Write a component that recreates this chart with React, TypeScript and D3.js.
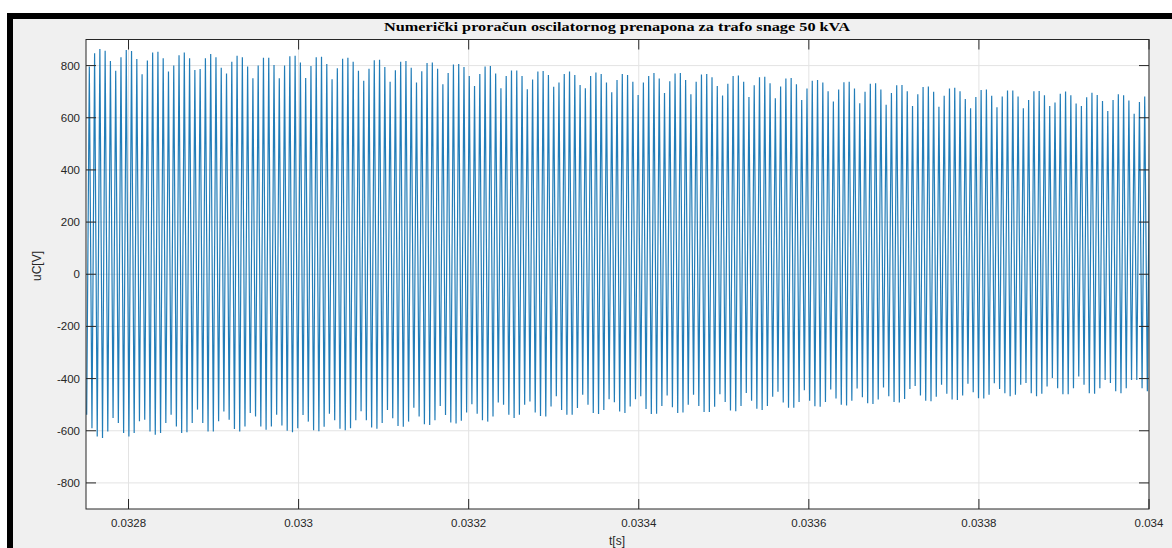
import React from 'react';
import * as d3 from 'd3';

const TITLE = 'Numerički proračun oscilatornog prenapona za trafo snage 50 kVA';
const X_LABEL = 't[s]';
const Y_LABEL = 'uC[V]';
const X_DOMAIN = [0.03275, 0.034];
const Y_DOMAIN = [-900, 900];
const X_TICKS = [0.0328, 0.033, 0.0332, 0.0334, 0.0336, 0.0338, 0.034];
const X_TICK_LABELS = ['0.0328', '0.033', '0.0332', '0.0334', '0.0336', '0.0338', '0.034'];
const Y_TICKS = [-800, -600, -400, -200, 0, 200, 400, 600, 800];
const Y_TICK_LABELS = ['-800', '-600', '-400', '-200', '0', '200', '400', '600', '800'];

// sampling of the oscillation: time of first trough and period of one cycle
const T_FIRST = 0.0327508;
const PERIOD = 6.2053e-6;

// positive peak of each cycle [V]
const PEAKS = [
  796, 847, 864, 857, 818, 780, 832, 860, 856, 825, 767, 819, 850, 853, 828, 777, 800, 840, 850, 828,
  783, 787, 828, 844, 832, 792, 770, 815, 838, 832, 796, 751, 800, 830, 830, 802, 751,
  800, 836, 838, 812, 752, 798, 832, 834, 806, 748, 790, 826, 830, 815, 780, 742, 788, 820, 822,
  795, 738, 782, 815, 818, 792, 735, 778, 810, 812, 788, 728, 772, 804, 806, 795, 760, 722, 768,
  796, 798, 770,
  713, 760, 781, 781, 760, 709, 747, 777, 779, 764, 719, 735, 768, 777, 764, 726, 713, 760, 773,
  768, 735, 698, 745, 768, 764, 738, 687, 735, 760,
  772, 750, 695, 740, 770, 772, 745, 690, 738, 766, 768, 755, 722, 685, 730, 760, 762, 738, 680,
  725, 755, 757, 732, 675, 720, 750, 752, 728, 668, 712, 742, 745, 735, 702, 662, 708, 736, 738,
  712, 656, 700, 730, 732, 708, 650, 695, 725, 726, 702, 645, 690, 718, 720, 700, 642, 684, 712,
  715, 702, 672, 636, 680, 706, 708, 684, 640,
  681, 704, 704, 681, 636, 668, 702, 703, 686, 645, 658, 692, 701, 686, 655, 645, 679, 696, 687,
  664, 626, 668, 690, 686, 666, 615, 660, 681, 684,
];

// negative trough of each cycle [V]
const TROUGHS = [
  -539, -590, -622, -628, -603, -551, -570, -609, -622, -609, -564, -558, -603, -615, -609, -570,
  -539, -584, -609, -606, -570, -519, -570, -603, -603, -564, -526, -558, -593, -603, -584, -532,
  -545, -584, -596, -584, -539,
  -580, -600, -606, -590, -540, -565, -598, -602, -585, -535, -560, -592, -598, -590, -560, -525,
  -560, -588, -592, -570, -520, -552, -582, -585, -565, -512, -545, -575, -578, -560, -505, -540,
  -568, -572, -562, -530, -498, -535, -560, -565, -545, -492,
  -500, -539, -551, -539, -500, -488, -530, -543, -545, -507, -468, -520, -539, -539, -513, -462,
  -500, -532, -536, -520, -479, -491, -526, -532, -507, -479, -468, -517,
  -536, -535, -505, -465, -510, -532, -530, -500, -462, -505, -528, -528, -508, -460, -490, -522,
  -525, -505, -455, -485, -516, -520, -505, -470, -450, -492, -512, -512, -490, -445, -485, -506,
  -508, -490, -442, -476, -500, -503, -485, -438, -472, -495, -497, -480, -434, -468, -490, -492,
  -478, -440, -428, -465, -485, -487, -470, -424, -458, -480, -482, -465, -420, -452, -475, -476,
  -462, -418, -440,
  -456, -468, -462, -424, -417, -456, -468, -458, -430, -398, -437, -460, -460, -437, -392, -424,
  -456, -458, -437, -405, -417, -449, -456, -437, -405, -405, -437, -449,
];

const SANS = '"Liberation Sans", Arial, Helvetica, sans-serif';
const SERIF = '"Liberation Serif", "Times New Roman", serif';

export default function App() {
  const W = 1172;
  const H = 548;
  const L = 86;
  const R = 1149;
  const T = 39.5;
  const B = 509;
  const x = d3.scaleLinear().domain(X_DOMAIN).range([L, R]);
  const y = d3.scaleLinear().domain(Y_DOMAIN).range([B, T]);

  const pts: [number, number][] = [];
  for (let i = 0; i < TROUGHS.length; i++) {
    pts.push([T_FIRST + i * PERIOD, TROUGHS[i]]);
    if (i < PEAKS.length) pts.push([T_FIRST + (i + 0.5) * PERIOD, PEAKS[i]]);
  }
  const line = d3
    .line<[number, number]>()
    .x((d) => x(d[0]))
    .y((d) => y(d[1]));
  const pathD = line(pts) || '';

  const tickLen = 10;
  const axisColor = '#262626';
  const gridColor = '#e3e3e3';

  return (
    <svg
      width={W}
      height={H}
      style={{ position: 'absolute', left: 0, top: 0, display: 'block' }}
    >
      <rect x={0} y={0} width={W} height={H} fill="#ffffff" />
      <rect x={13} y={19} width={W - 13} height={H - 19} fill="#f0f0f0" />
      <rect x={7} y={13} width={W - 7} height={6} fill="#000000" />
      <rect x={7} y={13} width={6} height={H - 13} fill="#000000" />

      <text
        x={617}
        y={31}
        textAnchor="middle"
        fontFamily={SERIF}
        fontWeight="bold"
        fontSize={13}
        fill="#000"
        textLength={466}
        lengthAdjust="spacingAndGlyphs"
      >
        {TITLE}
      </text>

      <rect x={L} y={T} width={R - L} height={B - T} fill="#ffffff" />

      <g>
        {X_TICKS.map((t) => (
          <line key={'gx' + t} x1={x(t)} x2={x(t)} y1={T} y2={B} stroke={gridColor} strokeWidth={1} />
        ))}
        {Y_TICKS.map((v) => (
          <line key={'gy' + v} x1={L} x2={R} y1={y(v)} y2={y(v)} stroke={gridColor} strokeWidth={1} />
        ))}
      </g>

      <defs>
        <clipPath id="plotclip">
          <rect x={L} y={T} width={R - L} height={B - T} />
        </clipPath>
      </defs>
      <path
        d={pathD}
        fill="none"
        stroke="#0a6fb0"
        strokeWidth={1.2}
        strokeOpacity={0.9}
        clipPath="url(#plotclip)"
      />

      <rect x={L} y={T} width={R - L} height={B - T} fill="none" stroke={axisColor} strokeWidth={1} />

      <g>
        {X_TICKS.map((t) => (
          <g key={'xt' + t}>
            <line x1={x(t)} x2={x(t)} y1={B} y2={B - tickLen} stroke={axisColor} strokeWidth={1} />
            <line x1={x(t)} x2={x(t)} y1={T} y2={T + tickLen} stroke={axisColor} strokeWidth={1} />
          </g>
        ))}
        {Y_TICKS.map((v) => (
          <g key={'yt' + v}>
            <line x1={L} x2={L + tickLen} y1={y(v)} y2={y(v)} stroke={axisColor} strokeWidth={1} />
            <line x1={R} x2={R - tickLen} y1={y(v)} y2={y(v)} stroke={axisColor} strokeWidth={1} />
          </g>
        ))}
      </g>

      <g fontFamily={SANS} fontSize={11.5} fill={axisColor}>
        {X_TICKS.map((t, i) => (
          <text key={'xl' + t} x={x(t)} y={527} textAnchor="middle">
            {X_TICK_LABELS[i]}
          </text>
        ))}
        {Y_TICKS.map((v, i) => (
          <text key={'yl' + v} x={80} y={y(v)} dy="0.35em" textAnchor="end">
            {Y_TICK_LABELS[i]}
          </text>
        ))}
        <text x={617} y={545} textAnchor="middle" fontSize={12}>
          {X_LABEL}
        </text>
        <text transform="translate(41,266) rotate(-90)" textAnchor="middle" fontSize={12}>
          {Y_LABEL}
        </text>
      </g>
    </svg>
  );
}
